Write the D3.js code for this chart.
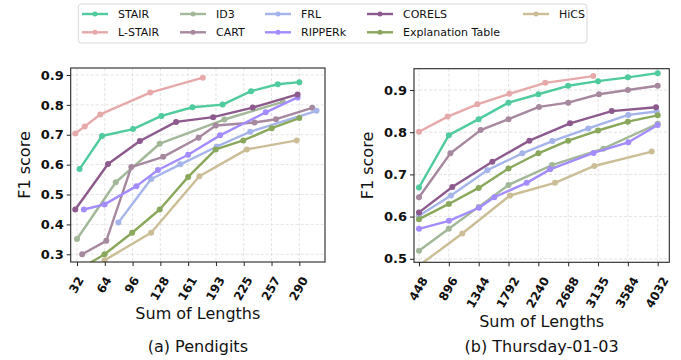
<!DOCTYPE html>
<html>
<head>
<meta charset="utf-8">
<script src="https://cdn.jsdelivr.net/npm/d3@7"></script>
<style>
  html, body { margin: 0; padding: 0; background: #fff; }
  svg { display: block; font-family: "DejaVu Sans", sans-serif; }
</style>
</head>
<body>
<svg id="chart" width="681" height="360"></svg>
<script>
// ---------- data ----------
const seriesNames = ["STAIR", "L-STAIR", "ID3", "CART", "FRL", "RIPPERk", "CORELS", "Explanation Table", "HiCS"];

// (a) Pendigits : [sum of lengths, F1 score]
const pdSTAIR   = [[35,0.585],[61,0.696],[97,0.719],[130,0.763],[166,0.792],[201,0.801],[234,0.846],[265,0.869],[290,0.876]];
const pdLSTAIR  = [[30,0.704],[41,0.728],[59,0.768],[117,0.841],[178,0.891]];
const pdID3     = [[32,0.351],[77,0.541],[128,0.670],[203,0.751],[271,0.810]];
const pdCART    = [[38,0.300],[66,0.345],[95,0.592],[132,0.626],[173,0.690],[193,0.731],[238,0.741],[263,0.752],[305,0.790]];
const pdFRL     = [[80,0.406],[118,0.552],[152,0.601],[194,0.660],[233,0.710],[310,0.780]];
const pdRIPPERk = [[40,0.450],[64,0.467],[101,0.528],[126,0.582],[161,0.633],[198,0.698],[251,0.775],[288,0.825]];
const pdCORELS  = [[30,0.450],[68,0.602],[105,0.679],[147,0.743],[190,0.759],[236,0.791],[288,0.835]];
const pdET      = [[32,0.245],[64,0.300],[96,0.372],[128,0.450],[161,0.559],[193,0.651],[225,0.681],[258,0.722],[290,0.756]];
const pdHiCS    = [[64,0.280],[118,0.372],[174,0.561],[229,0.651],[287,0.681]];

// (b) Thursday-01-03 : [sum of lengths, F1 score]
const thSTAIR   = [[448,0.669],[896,0.793],[1344,0.831],[1792,0.870],[2240,0.890],[2688,0.910],[3136,0.921],[3584,0.930],[4032,0.940]];
const thLSTAIR  = [[448,0.801],[879,0.837],[1323,0.866],[1804,0.891],[2344,0.917],[3065,0.933]];
const thID3     = [[448,0.519],[896,0.571],[1344,0.623],[1792,0.675],[2445,0.722],[3215,0.761],[4032,0.820]];
const thCART    = [[448,0.646],[920,0.750],[1374,0.805],[1792,0.831],[2250,0.860],[2688,0.870],[3150,0.890],[3584,0.900],[4032,0.910]];
const thFRL     = [[448,0.602],[928,0.650],[1474,0.710],[1999,0.750],[2450,0.779],[2991,0.809],[3591,0.841],[4017,0.849]];
const thRIPPERk = [[448,0.571],[898,0.590],[1349,0.621],[1579,0.646],[2065,0.680],[2417,0.712],[3068,0.751],[3591,0.776],[4032,0.817]];
const thCORELS  = [[448,0.610],[948,0.670],[1549,0.730],[2105,0.780],[2716,0.821],[3342,0.850],[4007,0.859]];
const thET      = [[448,0.594],[896,0.630],[1344,0.668],[1792,0.714],[2240,0.750],[2688,0.780],[3136,0.804],[3584,0.825],[4032,0.840]];
const thHiCS    = [[448,0.484],[1098,0.560],[1814,0.650],[2490,0.680],[3080,0.720],[3942,0.754]];

// tick values / labels
const pdXTicks = [32, 64.25, 96.5, 128.75, 161, 193.25, 225.5, 257.75, 290];
const pdXLabels = ["32","64","96","128","161","193","225","257","290"];
const pdYTicks = [0.3,0.4,0.5,0.6,0.7,0.8,0.9];
const thXTicks = [448, 896, 1344, 1792, 2240, 2688, 3136, 3584, 4032];
const thXLabels = ["448","896","1344","1792","2240","2688","3135","3584","4032"];
const thYTicks = [0.5,0.6,0.7,0.8,0.9];

// ---------- styles ----------
const colors = ["#4fcb9d", "#e6a9aa", "#a2b898", "#a6889f", "#a5b4eb", "#a48cff", "#8c5a8c", "#8aa85c", "#cbbd95"];

const pdSeries = [pdSTAIR, pdLSTAIR, pdID3, pdCART, pdFRL, pdRIPPERk, pdCORELS, pdET, pdHiCS];
const thSeries = [thSTAIR, thLSTAIR, thID3, thCART, thFRL, thRIPPERk, thCORELS, thET, thHiCS];

const svg = d3.select("#chart");

function drawPanel(cfg) {
  const x = d3.scaleLinear().domain(cfg.xDomain).range([cfg.left, cfg.right]);
  const y = d3.scaleLinear().domain(cfg.yDomain).range([cfg.bottom, cfg.top]);
  const g = svg.append("g");
  const clipId = "clip-" + cfg.id;
  svg.append("defs").append("clipPath").attr("id", clipId)
    .append("rect").attr("x", cfg.left).attr("y", cfg.top)
    .attr("width", cfg.right - cfg.left).attr("height", cfg.bottom - cfg.top);

  // grid
  const grid = g.append("g");
  grid.selectAll("line.gx").data(cfg.xTicks).join("line")
    .attr("x1", d => x(d)).attr("x2", d => x(d))
    .attr("y1", cfg.top).attr("y2", cfg.bottom)
    .attr("stroke", "#dcdcdc").attr("stroke-width", 0.8).attr("stroke-dasharray", "3,2");
  grid.selectAll("line.gy").data(cfg.yTicks).join("line")
    .attr("y1", d => y(d)).attr("y2", d => y(d))
    .attr("x1", cfg.left).attr("x2", cfg.right)
    .attr("stroke", "#dcdcdc").attr("stroke-width", 0.8).attr("stroke-dasharray", "3,2");

  // series
  const plot = g.append("g").attr("clip-path", `url(#${clipId})`);
  const line = d3.line().x(d => x(d[0])).y(d => y(d[1]));
  cfg.series.forEach((s, i) => {
    plot.append("path").datum(s).attr("d", line)
      .attr("fill", "none").attr("stroke", colors[i]).attr("stroke-width", 2.4)
      .attr("stroke-linejoin", "round").attr("stroke-linecap", "round");
    plot.selectAll(null).data(s).join("circle")
      .attr("cx", d => x(d[0])).attr("cy", d => y(d[1])).attr("r", 3)
      .attr("fill", colors[i]);
  });

  // frame
  g.append("rect").attr("x", cfg.left).attr("y", cfg.top)
    .attr("width", cfg.right - cfg.left).attr("height", cfg.bottom - cfg.top)
    .attr("fill", "none").attr("stroke", "#262626").attr("stroke-width", 1.1);

  // y axis
  const yAxis = d3.axisLeft(y).tickValues(cfg.yTicks).tickFormat(d3.format(".1f"))
    .tickSize(4).tickPadding(3);
  const ya = g.append("g").attr("transform", `translate(${cfg.left},0)`).call(yAxis);
  ya.select(".domain").remove();
  ya.selectAll(".tick line").attr("stroke", "#262626").attr("stroke-width", 1);
  ya.selectAll(".tick text").attr("font-size", 13).attr("font-weight", "bold")
    .attr("fill", "#111").style("font-family", "DejaVu Sans");

  // x axis
  const xAxis = d3.axisBottom(x).tickValues(cfg.xTicks)
    .tickFormat((d, i) => cfg.xLabels[i]).tickSize(4);
  const xa = g.append("g").attr("transform", `translate(0,${cfg.bottom})`).call(xAxis);
  xa.select(".domain").remove();
  xa.selectAll(".tick line").attr("stroke", "#262626").attr("stroke-width", 1);
  const fs = 12;
  xa.selectAll(".tick text").attr("font-size", fs).attr("font-weight", "bold")
    .attr("fill", "#111").style("font-family", "DejaVu Sans")
    .attr("text-anchor", "middle").attr("dy", null).attr("y", null)
    .attr("dominant-baseline", "central")
    .each(function() {
      const t = d3.select(this);
      const w = this.getComputedTextLength();
      const h = fs * 0.73;
      const vh = w * Math.sin(Math.PI / 3) + h * Math.cos(Math.PI / 3);
      const cy = 13.5 + vh / 2;
      t.attr("transform", `translate(-1,${cy}) rotate(-60)`);
    });

  // y label
  g.append("text")
    .attr("transform", `translate(${cfg.yLabelX},${(cfg.top + cfg.bottom) / 2}) rotate(-90)`)
    .attr("text-anchor", "middle").attr("dominant-baseline", "central")
    .attr("font-size", 16).attr("fill", "#111").text("F1 score");

  // x label
  g.append("text").attr("x", (cfg.left + cfg.right) / 2).attr("y", cfg.xLabelY)
    .attr("text-anchor", "middle").attr("font-size", 16).attr("fill", "#111")
    .text("Sum of Lengths");

  // caption
  g.append("text").attr("x", (cfg.left + cfg.right) / 2).attr("y", 352)
    .attr("text-anchor", "middle").attr("font-size", 16).attr("fill", "#111")
    .text(cfg.caption);
}

drawPanel({
  id: "a", series: pdSeries,
  left: 70.7, right: 325, top: 68, bottom: 262,
  xDomain: [24.7, 319.8], yDomain: [0.2742, 0.9234],
  xTicks: pdXTicks, xLabels: pdXLabels, yTicks: pdYTicks,
  yLabelX: 24.5, xLabelY: 318.5, caption: "(a) Pendigits"
});

drawPanel({
  id: "b", series: thSeries,
  left: 414, right: 669.3, top: 68.7, bottom: 262.3,
  xDomain: [373, 4206], yDomain: [0.4917, 0.9505],
  xTicks: thXTicks, xLabels: thXLabels, yTicks: thYTicks,
  yLabelX: 367, xLabelY: 326.5, caption: "(b) Thursday-01-03"
});

// ---------- legend ----------
const legendCols = [82, 180, 265, 367, 523];
const legendRows = [14, 32.3];
const leg = svg.append("g");
leg.append("rect").attr("x", 78.3).attr("y", 4).attr("width", 508.7).attr("height", 39)
  .attr("rx", 3).attr("fill", "#fff").attr("stroke", "#d4d4d4").attr("stroke-width", 0.9);
seriesNames.forEach((name, i) => {
  const cx = legendCols[Math.floor(i / 2)];
  const cy = legendRows[i % 2];
  leg.append("line").attr("x1", cx).attr("x2", cx + 26).attr("y1", cy).attr("y2", cy)
    .attr("stroke", colors[i]).attr("stroke-width", 2.4);
  leg.append("circle").attr("cx", cx + 13).attr("cy", cy).attr("r", 2.5).attr("fill", colors[i]);
  leg.append("text").attr("x", cx + 36).attr("y", cy).attr("dominant-baseline", "central")
    .attr("font-size", 11).attr("fill", "#111").text(name);
});
</script>
</body>
</html>
